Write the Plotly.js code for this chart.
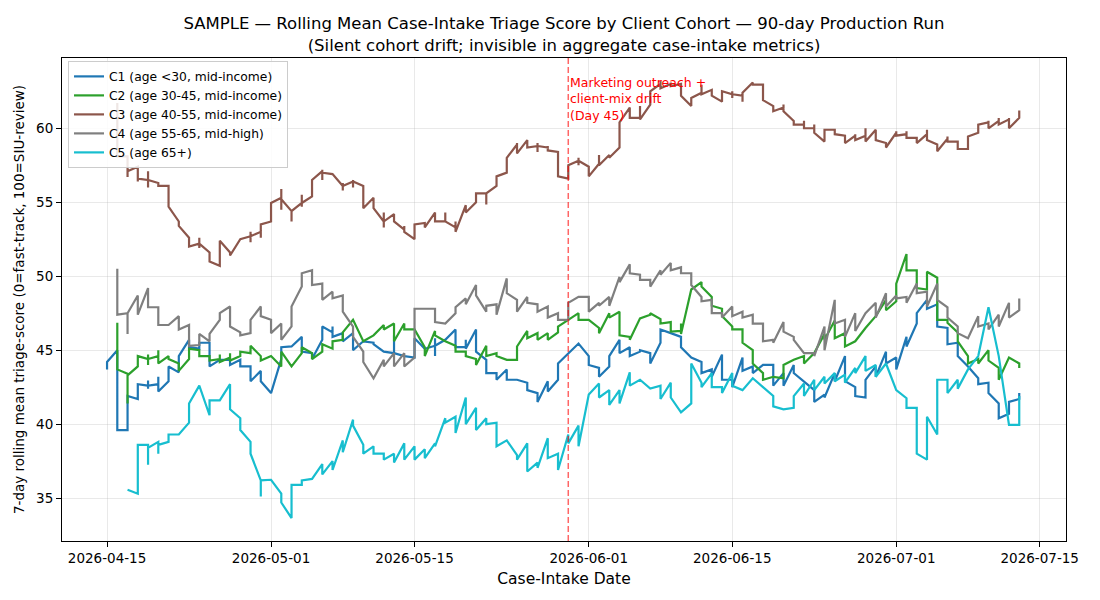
<!DOCTYPE html>
<html>
<head>
<meta charset="utf-8">
<script src="https://cdn.plot.ly/plotly-3.0.1.min.js"></script>
<style>
  html, body { margin: 0; padding: 0; background: #ffffff; }
  #chart { width: 1100px; height: 600px; }
</style>
</head>
<body>
<div id="chart"></div>
<script>
// Production run: 90 intake days starting 2026-04-15.
// Each cohort array holds one entry per intake day; an entry lists the
// rolling-mean values recorded on that day in order (null = no cases yet).
const runStart = '2026-04-15';
const driftDay = 45;

const cohortNames = [
  'C1 (age <30, mid-income)',
  'C2 (age 30-45, mid-income)',
  'C3 (age 40-55, mid-income)',
  'C4 (age 55-65, mid-high)',
  'C5 (age 65+)'
];
const cohortColors = ['#1f77b4', '#2ca02c', '#8c564b', '#7f7f7f', '#17becf'];

const c1 = [
  [43.7, 44.2], [45.0, 39.6], [39.6, 41.9], [41.7, 42.7], [42.6, 42.95, 42.4, 42.6],
  [42.7, 43.2, 42.2], [42.9, 43.9], [43.5, 44.6], [45.7, 45.2], [45.1, 45.5],
  [45.5, 43.9], [44.35], [44.35, 44.0], [44.35, 43.9], [43.9, 42.9],
  [43.6, 42.9], [42.1], [44.4, 45.2], [45.25], [45.9, 44.9],
  [44.8, 44.4], [45.7, 46.6], [46.2, 46.6, 45.9], [46.15, 45.6], [46.15, 45.0],
  [45.6], [45.5, 45.4], [44.9], [44.8, 46.0, 44.8], [44.6],
  [44.5, 45.8], [45.1], [45.3, 45.8, 44.6, 45.3], [45.7], [46.4, 45.2],
  [45.2, 45.7, 45.1], [46.4, 44.9], [44.35, 43.45], [43.45, 43.0], [43.7, 43.0],
  [43.0], [42.8, 42.3], [42.1, 41.5], [42.9, 42.2], [43.0, 44.1],
  [44.8], [45.45], [44.6, 44.0], [43.8, 43.2], [43.9, 44.6],
  [45.7, 44.8], [45.2, 44.6], [44.9, 45.0], [44.8, 44.1], [45.5, 46.4],
  [46.15], [45.9, 45.2], [44.5], [44.2, 43.45], [43.7, 43.2],
  [44.7, 43.0], [43.0, 42.5], [44.5, 43.6], [43.9, 43.45], [44.0],
  [44.0, 42.6], [43.45, 42.6], [44.0, 43.45], [42.9], [42.3, 41.5],
  [42.0, 41.8], [43.45, 42.9], [44.6, 42.9], [42.5, 41.9], [41.8, 43.0],
  [43.9, 43.2], [44.9, 44.1], [44.5, 43.7], [45.9, 45.25], [46.8, 47.5],
  [48.4, 47.8], [48.1, 46.6], [46.5, 45.4], [45.5, 44.6], [43.9],
  [43.1, 42.7], [42.8, 42.1], [41.4, 40.4], [40.7, 41.5], [41.7, 42.1]
];

const c2 = [
  null, [46.85, 43.7], [43.4, 41.4, 43.3], [43.9, 44.6], [44.4, 44.7, 44.0, 44.4],
  [44.6, 45.0, 44.1], [44.6, 44.4], [44.1, 43.6], [44.4, 45.1], [45.0, 44.6],
  [44.6, 44.3], [44.4, 44.7, 44.2], [44.5, 44.8, 44.3], [44.6, 44.9], [44.8, 45.3],
  [44.6, 44.3], [44.6], [43.9, 44.9], [43.9], [44.8, 45.2],
  [44.8, 44.4], [44.9, 45.4], [45.1, 45.6], [45.7, 46.2], [47.05],
  [45.6], [46.0], [46.7, 46.4], [46.8, 45.6], [46.8, 46.4],
  [46.4], [45.2, 44.6], [46.3, 46.0], [45.6], [45.3, 44.9],
  [44.9, 44.6], [44.4, 44.0], [45.3, 44.6], [44.8, 44.6], [44.35],
  [44.35, 45.25], [46.3, 45.8], [46.15, 45.7], [46.15, 45.7], [46.2, 46.6],
  [47.05], [47.5, 47.05], [47.05], [46.5, 46.15], [47.5, 47.2],
  [47.6, 46.0], [45.9, 45.7], [47.15], [47.4, 47.5], [47.1, 46.8],
  [46.9, 46.25], [46.3, 46.8, 46.1], [49.1], [49.6, 49.3], [48.6, 48.0],
  [47.8, 47.3], [46.6, 46.4], [46.4, 45.5], [45.0, 44.1], [43.45, 43.0],
  [43.2], [43.1, 44.0], [44.35], [44.6, 44.1], [44.8],
  [46.1, 45.7], [47.0, 45.8], [46.15, 45.25], [45.6], [46.5],
  [47.3], [48.4, 47.7], [48.3, 49.5], [51.5, 50.4], [50.4, 49.2],
  [49.1, 50.3], [49.9, 47.05], [47.05, 46.85], [46.2, 45.6], [44.6, 44.1],
  [44.4, 44.1], [45.0, 44.3], [43.8, 43.0], [44.5], [44.1, 43.8]
];

const c3 = [
  null, [61.7, 58.1], [58.1, 56.7, 57.1], [57.4, 56.4, 56.6], [56.5, 57.1, 56.0, 56.5],
  [56.3, 56.1], [56.1, 54.7], [53.7, 53.4], [52.6, 52.0], [52.2, 52.6, 51.9, 52.2],
  [51.6, 51.0], [50.7, 52.4], [51.6, 51.4], [52.5], [52.7, 53.0, 52.3, 52.7],
  [53.0, 52.6, 53.5], [53.7, 54.95], [55.3, 55.9, 54.5, 55.2], [54.4, 53.7, 54.4], [54.95, 55.5, 54.7, 54.95],
  [55.4, 56.5], [57.1, 57.2, 56.5, 57.0], [56.9], [56.1, 56.3, 55.8, 56.1], [56.4, 56.5, 56.0, 56.4],
  [56.1, 54.6], [55.3, 54.6], [53.7, 54.3, 53.3, 53.7], [54.2, 53.7], [53.15, 53.4, 53.0],
  [52.5, 53.5], [53.6, 53.3], [54.3, 53.7], [53.7, 54.3, 53.7], [53.3, 53.7, 53.0],
  [54.8, 54.3], [55.0, 55.6], [55.6, 54.85, 55.6], [56.1, 56.75], [57.0, 58.0],
  [58.9, 59.0, 58.3], [59.2, 58.7], [58.8, 59.0, 58.4, 58.8], [58.7, 58.8, 58.5], [58.4, 56.75],
  [56.6, 57.5], [57.8, 58.0, 57.5, 57.8], [57.4, 56.75], [57.6, 58.2, 57.5], [58.2, 58.0],
  [58.7, 60.4], [61.4, 60.7], [60.7, 61.5, 60.6], [61.6, 62.5], [63.0, 63.2, 62.7],
  [63.0, 63.1, 62.85], [63.0, 62.2], [61.5, 62.05], [62.4, 62.95, 62.3], [62.6, 62.2],
  [61.8, 62.5], [62.3, 62.5, 62.05, 62.3], [62.2, 61.8, 62.4], [63.1, 62.95], [62.95, 61.9],
  [61.5, 61.15], [61.4, 61.6, 61.15], [60.5, 60.25], [60.25, 60.5, 60.0], [60.0, 60.25, 59.7],
  [59.1, 59.9], [59.9, 59.6], [59.5, 59.0], [59.5, 59.6, 59.2], [59.5, 60.0, 59.1],
  [59.9, 59.2], [59.0, 58.7], [59.7, 59.8, 59.5], [59.6, 59.8, 59.35], [59.35, 59.0],
  [59.6, 59.9, 59.2], [58.9, 58.45], [59.3, 59.45, 59.1], [59.1, 58.6], [58.6, 59.45],
  [59.7, 60.25], [60.4, 60.5, 60.0], [60.5, 60.7, 60.25], [60.6, 60.7, 60.0], [60.7, 61.2]
];

const c4 = [
  null, [50.5, 47.4], [47.5, 46.1, 47.5], [48.7, 47.4], [49.2, 47.9],
  [47.9, 46.7], [46.7], [47.3, 46.4], [46.7, 45.3], [45.35, 46.1],
  [45.6, 46.1], [47.05, 47.5], [47.95, 46.6], [46.2, 46.0], [46.15, 47.05],
  [47.95, 47.3], [47.05, 46.15], [46.8, 45.7], [46.6, 47.95], [49.3, 50.2],
  [50.4, 49.4], [49.5, 48.4], [48.95, 48.5], [48.7, 47.6], [46.6, 45.9],
  [44.9, 44.2], [43.1], [44.35, 43.9], [44.8, 43.9], [44.8, 43.9],
  [44.5, 47.8], [47.8], [47.8, 46.9], [46.8], [47.5, 47.9],
  [48.5, 48.1], [49.4, 48.7], [47.6, 48.0], [48.1, 47.4], [49.85, 48.85],
  [48.4, 47.6], [48.6, 48.2], [48.1, 47.6], [47.95, 47.2], [47.5, 47.05],
  [47.05, 48.2], [48.6], [48.6, 47.6], [48.2, 48.0], [48.6, 48.0],
  [49.95, 49.6], [50.8, 50.2], [50.1, 49.75], [49.75, 49.3], [50.4, 50.1],
  [50.9, 50.4], [50.6, 50.2], [50.2, 49.4], [48.6, 48.3], [48.4, 47.5],
  [47.5, 47.2], [47.95, 47.3], [47.6, 47.2], [47.4, 46.8], [46.8, 45.6],
  [45.7, 45.5], [46.9, 46.25], [45.9, 45.7], [44.8], [44.8, 44.6],
  [46.6, 45.0], [48.4, 46.8], [47.05, 45.9], [47.5, 46.3], [47.5],
  [48.2, 47.2], [48.85, 47.95], [48.7, 48.5], [48.6, 48.2], [49.5, 48.85],
  [48.95, 47.95], [49.5, 48.4], [47.9, 47.2], [46.6, 46.15], [45.8],
  [47.3, 46.6], [46.8, 46.4], [47.4, 46.6], [48.2, 47.2], [47.7, 48.5]
];

const c5 = [
  null, null, [35.56], [35.3, 38.6], [38.6, 37.25, 38.4],
  [38.8, 38.0, 38.6], [38.8, 39.3], [39.3], [40.1, 41.4], [42.6],
  [40.6, 41.6], [41.6], [42.7, 41.0], [40.4, 39.6], [38.8, 38.0],
  [36.2, 35.1, 36.2], [36.24], [35.3, 34.7], [33.65, 35.9], [35.9, 36.2],
  [36.3], [37.3, 36.6], [37.5, 36.9], [38.9, 38.1], [40.3, 39.9],
  [38.6, 38.0], [38.5, 38.0], [38.0, 37.6], [38.0, 37.4], [38.7, 37.6],
  [38.5, 37.6], [38.3, 37.7], [38.7, 38.5], [40.4, 40.1], [40.5, 39.4],
  [41.8, 40.0], [41.1, 39.6], [40.4, 40.0], [40.1, 38.5], [38.9],
  [37.9, 37.6], [38.7, 36.8], [37.4, 37.05], [39.05, 37.7], [38.0, 36.9],
  [39.3, 38.7], [39.9, 38.5], [41.8, 42.0], [42.75, 41.8], [42.3, 41.3],
  [42.3, 41.4], [43.5, 42.6], [43.0], [42.4], [42.6, 41.7],
  [42.8, 41.8], [40.8], [41.4, 44.1], [42.8, 42.5], [43.45, 42.5],
  [42.5, 42.1], [43.45, 42.6], [42.3], [43.1], [42.5],
  [41.9, 41.2], [41.0], [41.1, 41.9], [42.75, 41.9], [43.0, 42.3],
  [43.2, 42.75], [43.45, 42.9], [43.35, 42.8], [43.8, 43.45], [44.6, 43.6],
  [44.0, 43.2], [44.1], [42.3], [41.75, 41.1], [41.1, 38.0],
  [37.6, 40.5], [39.3, 43.0], [43.0, 42.1], [43.0, 42.4], [43.7],
  [44.6], [47.9], [44.6], [39.95], [39.95, 41.9]
];

const tickDates = ['2026-04-15', '2026-05-01', '2026-05-15', '2026-06-01',
                   '2026-06-15', '2026-07-01', '2026-07-15'];

const cohortSeries = [c1, c2, c3, c4, c5];

function dayToDate(i) {
  const [y, m, d] = runStart.split('-').map(Number);
  const t = new Date(Date.UTC(y, m - 1, d) + i * 86400000);
  return t.toISOString().slice(0, 10);
}

// Flatten per-day value lists: several values on one day share the same date,
// which draws the within-day jumps as vertical strokes.
function expand(series) {
  const x = [], y = [];
  series.forEach((vals, i) => {
    if (!vals) return;
    const day = dayToDate(i);
    vals.forEach(v => { x.push(day); y.push(v); });
  });
  return { x, y };
}

const traces = cohortSeries.map((s, k) => {
  const pts = expand(s);
  return {
    type: 'scatter',
    mode: 'lines',
    name: cohortNames[k],
    x: pts.x,
    y: pts.y,
    line: { color: cohortColors[k], width: 2.2 }
  };
});

const font = 'DejaVu Sans, Verdana, sans-serif';
const driftDate = dayToDate(driftDay);

const layout = {
  width: 1100,
  height: 600,
  paper_bgcolor: '#ffffff',
  plot_bgcolor: '#ffffff',
  margin: { l: 62, r: 34, t: 58, b: 59 },
  font: { family: font, color: '#000000', size: 13.5 },
  title: {
    text: 'SAMPLE \u2014 Rolling Mean Case-Intake Triage Score by Client Cohort \u2014 90-day Production Run<br>(Silent cohort drift; invisible in aggregate case-intake metrics)',
    font: { family: font, size: 16.5, color: '#000000' },
    x: 0.5, xref: 'paper', xanchor: 'center',
    y: 0.951, yref: 'container', yanchor: 'top'
  },
  xaxis: {
    type: 'date',
    range: ['2026-04-10 14:30', '2026-07-17 13:30'],
    tickvals: tickDates,
    tickformat: '%Y-%m-%d',
    ticks: 'outside', ticklen: 5, tickwidth: 1, tickcolor: '#000000',
    showgrid: true, gridcolor: 'rgba(176,176,176,0.35)', gridwidth: 0.8,
    showline: true, linecolor: '#000000', linewidth: 1, mirror: true,
    zeroline: false,
    tickfont: { family: font, size: 13.5, color: '#000000' },
    title: { text: 'Case-Intake Date', font: { family: font, size: 15.5, color: '#000000' }, standoff: 7 }
  },
  yaxis: {
    range: [32.1, 64.75],
    dtick: 5, tick0: 0,
    ticks: 'outside', ticklen: 5, tickwidth: 1, tickcolor: '#000000',
    showgrid: true, gridcolor: 'rgba(176,176,176,0.35)', gridwidth: 0.8,
    showline: true, linecolor: '#000000', linewidth: 1, mirror: true,
    zeroline: false,
    tickfont: { family: font, size: 13.5, color: '#000000' },
    title: { text: '7-day rolling mean triage-score (0=fast-track, 100=SIU-review)', font: { family: font, size: 13.5, color: '#000000' }, standoff: 8 }
  },
  legend: {
    x: 0.006, y: 0.994, xanchor: 'left', yanchor: 'top',
    bgcolor: 'rgba(255,255,255,0.85)',
    bordercolor: '#cccccc', borderwidth: 1,
    font: { family: font, size: 12.3, color: '#000000' },
    itemwidth: 30,
    tracegroupgap: 0
  },
  shapes: [{
    type: 'line', xref: 'x', yref: 'paper',
    x0: driftDate, x1: driftDate, y0: 0, y1: 1,
    line: { color: 'rgba(255,0,0,0.6)', width: 1.5, dash: '6px,3px' }
  }],
  annotations: [{
    xref: 'x', yref: 'y',
    x: driftDate, y: 63.75,
    xanchor: 'left', yanchor: 'top', align: 'left',
    showarrow: false,
    text: 'Marketing outreach +<br>client-mix drift<br>(Day 45)',
    font: { family: font, size: 12.5, color: '#ff0000' }
  }],
  showlegend: true
};

Plotly.newPlot('chart', traces, layout, { displayModeBar: false, staticPlot: true });
</script>
</body>
</html>
